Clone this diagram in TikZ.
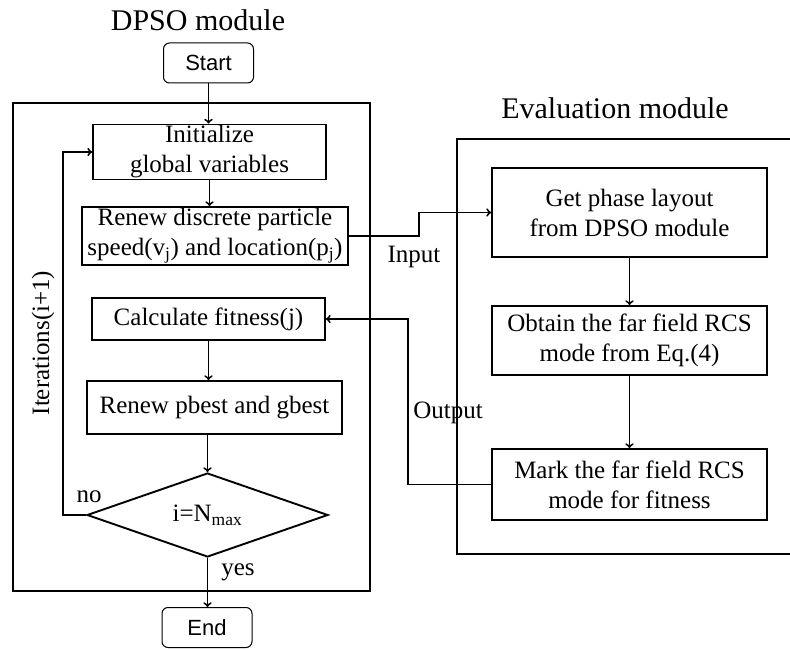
\documentclass[tikz,border=0pt]{standalone}
\usepackage{fontspec}
\setmainfont{Liberation Serif}
\newfontfamily\arialfont{Liberation Sans}
\usetikzlibrary{shapes.geometric}
\begin{document}
\begin{tikzpicture}[x=1pt,y=-1pt,line width=1.9pt,
	every node/.style={font=\fontsize{25}{30}\selectfont},
	blk/.style={rectangle,draw,align=center,inner sep=0pt},
	term/.style={rectangle,rounded corners=6pt,draw,line width=1pt,inner sep=0pt,
		minimum width=90pt,minimum height=40pt,font=\arialfont\fontsize{22}{26}\selectfont},
	cond/.style={diamond,draw,inner sep=0pt,aspect=2.87,minimum width=241pt,minimum height=84pt}]
\useasboundingbox (0,0) rectangle (790,650);
% frames of the two modules
\draw (13,103) rectangle (370,591);
\draw (790,139) -| (457,554) -- (790,554);
\node (dpso) at (198,20) {\fontsize{30}{36}\selectfont DPSO module};
\node (eval) at (615,108) {\fontsize{30}{36}\selectfont Evaluation module};
% DPSO module
\node[term] (start) at (208.5,63) {Start};
\node[blk,minimum width=233pt,minimum height=55pt] (init) at (209.5,152) {Initialize\\global variables};
\node[blk,minimum width=266pt,minimum height=58pt] (renew) at (215,236) {Renew discrete particle\\speed(v\textsubscript{j}) and location(p\textsubscript{j})};
\node[blk,minimum width=233pt,minimum height=42pt] (calc) at (208.5,319) {Calculate fitness(j)};
\node[blk,minimum width=255pt,minimum height=53pt] (best) at (214.5,407.5) {Renew pbest and gbest};
\node[cond] (check) at (207.5,515) {i=N\textsubscript{max}};
\node[term] (end) at (207,627.5) {End};
% Evaluation module
\node[blk,minimum width=275pt,minimum height=89pt] (get) at (629.5,212.5) {Get phase layout\\from DPSO module};
\node[blk,minimum width=275pt,minimum height=69pt] (obtain) at (629.5,340.5) {Obtain the far field RCS\\mode from Eq.(4)};
\node[blk,minimum width=275pt,minimum height=71pt] (mark) at (629.5,484.5) {Mark the far field RCS\\mode for fitness};
\coordinate (inbend) at (419,0);
\coordinate (outbend) at (408,0);
\coordinate (loopx) at (63,0);
% connectors
\draw[->] (start.south) -- (start.south |- init.north);
\draw[->] (init.south) -- (init.south |- renew.north);
\draw[->] (calc.south) -- (calc.south |- best.north);
\draw[->] (best.south -| check) -- (check.north);
\draw[->] (check.south) -- (check.south |- end.north);
\draw[->] (check.west) -- (check.west -| loopx) |- (init.west);
\draw[->] (get) -- (obtain);
\draw[->] (obtain) -- (mark);
\draw[->] (renew.east) -- (renew.east -| inbend) |- (get.west);
\draw[->] (mark.west) -- (mark.west -| outbend) |- (calc.east);
% labels
\node (input) at (414,257) {Input};
\node (output) at (448,413) {Output};
\node[rotate=90] (iter) at (43,343) {Iterations(i+1)};
\node (no) at (89,497) {no};
\node (yes) at (238,572) {yes};
\end{tikzpicture}
\end{document}
